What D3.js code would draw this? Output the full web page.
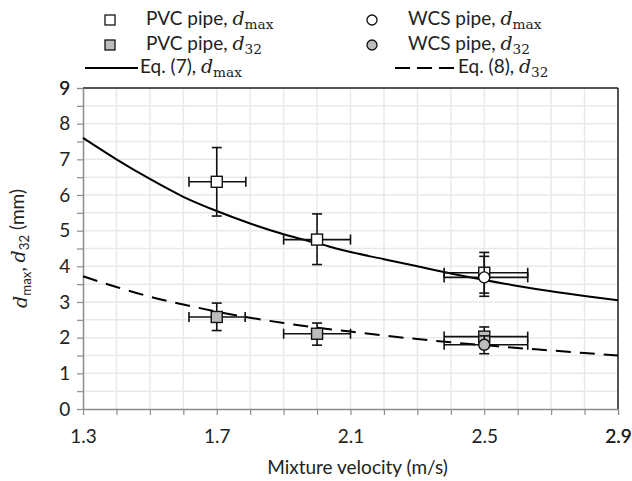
<!DOCTYPE html>
<html>
<head>
<meta charset="utf-8">
<script src="https://cdn.jsdelivr.net/npm/d3@7"></script>
<style>
  body { margin: 0; background: #fff; }
  svg { font-family: Lato, "Open Sans", sans-serif; }
</style>
</head>
<body>
<div id="chart"></div>
<script>
// measured points (x = mixture velocity, y = diameter), error bar ends
const pvcMax = [
  {x: 1.7, y: 6.37, x0: 1.617, x1: 1.787, y0: 5.41, y1: 7.33},
  {x: 2.0, y: 4.75, x0: 1.90, x1: 2.10, y0: 4.05, y1: 5.47},
  {x: 2.5, y: 3.82, x0: 2.38, x1: 2.63, y0: 3.25, y1: 4.39}
];
const pvc32 = [
  {x: 1.7, y: 2.58, x0: 1.617, x1: 1.785, y0: 2.20, y1: 2.97},
  {x: 2.0, y: 2.11, x0: 1.90, x1: 2.10, y0: 1.79, y1: 2.41},
  {x: 2.5, y: 2.03, x0: 2.38, x1: 2.63, y0: 1.72, y1: 2.30}
];
const wcsMax = [
  {x: 2.5, y: 3.69, x0: 2.38, x1: 2.63, y0: 3.16, y1: 4.28}
];
const wcs32 = [
  {x: 2.5, y: 1.80, x0: 2.38, x1: 2.63, y0: 1.55, y1: 2.05}
];
// correlation curves
const eqVel = [1.3, 1.4, 1.5, 1.6, 1.7, 1.8, 1.9, 2.0, 2.1, 2.2, 2.3, 2.4, 2.5, 2.6, 2.7, 2.8, 2.9];
const eq7Max = [7.6, 7.0, 6.45, 5.95, 5.55, 5.2, 4.9, 4.65, 4.4, 4.2, 4.0, 3.8, 3.62, 3.45, 3.3, 3.17, 3.05];
const eq8d32 = [3.72, 3.42, 3.15, 2.93, 2.73, 2.56, 2.41, 2.28, 2.17, 2.06, 1.96, 1.87, 1.79, 1.71, 1.64, 1.57, 1.5];
const xTickLabels = [1.3, 1.7, 2.1, 2.5, 2.9];
const yTickLabels = [0, 1, 2, 3, 4, 5, 6, 7, 8, 9];

const W = 632, H = 481;
const margin = {top: 88, right: 14, bottom: 72, left: 83};
const width = W - margin.left - margin.right,
      height = H - margin.top - margin.bottom;

const svg = d3.select("#chart").append("svg")
    .attr("width", W)
    .attr("height", H);

const g = svg.append("g")
    .attr("transform", `translate(${margin.left},${margin.top})`);

const x = d3.scaleLinear().domain([1.3, 2.9]).range([0, width]);
const y = d3.scaleLinear().domain([0, 9]).range([height, 0]);

const minorX = d3.range(13, 30).map(d => d / 10);
const minorY = d3.range(0, 19).map(d => d / 2);

// gridlines
g.append("g").selectAll("line")
  .data(minorX.slice(1))
  .enter().append("line")
    .attr("x1", d => x(d)).attr("x2", d => x(d))
    .attr("y1", 0).attr("y2", height)
    .attr("stroke", "#e9e9e9").attr("stroke-width", 1.5);
g.append("g").selectAll("line")
  .data(minorY.slice(1))
  .enter().append("line")
    .attr("y1", d => y(d)).attr("y2", d => y(d))
    .attr("x1", 0).attr("x2", width)
    .attr("stroke", "#e9e9e9").attr("stroke-width", 1.5);

// top & right border
g.append("line").attr("x1", 0).attr("x2", width).attr("y1", 0).attr("y2", 0)
  .attr("stroke", "#222").attr("stroke-width", 1.5);
g.append("line").attr("x1", width).attr("x2", width).attr("y1", 0).attr("y2", height)
  .attr("stroke", "#222").attr("stroke-width", 1.5);

// axes
const xAxis = g.append("g")
    .attr("transform", `translate(0,${height})`)
    .call(d3.axisBottom(x).tickValues(minorX.concat([2.9])).tickSize(6).tickSizeOuter(0)
      .tickFormat(d => xTickLabels.some(v => Math.abs(v - d) < 1e-6) ? d3.format(".1f")(d) : ""));
const yAxis = g.append("g")
    .call(d3.axisLeft(y).tickValues(minorY.concat([9])).tickSize(6).tickSizeOuter(0)
      .tickFormat(d => yTickLabels.includes(d) ? d : ""));

[xAxis, yAxis].forEach(a => {
  a.select(".domain").attr("stroke", "#8c8c8c").attr("stroke-width", 1.5);
  a.selectAll(".tick line").attr("stroke", "#8c8c8c").attr("stroke-width", 1.2);
  a.selectAll("text").attr("font-family", "Lato, sans-serif").attr("font-size", 19).attr("fill", "#222");
});
xAxis.selectAll("text").attr("dy", "1.3em");
yAxis.selectAll("text").attr("dx", "-0.2em");

// curves
const line = d3.line().x(d => x(d[0])).y(d => y(d[1])).curve(d3.curveMonotoneX);
g.append("path")
  .datum(eqVel.map((v, i) => [v, eq7Max[i]]))
  .attr("d", line)
  .attr("fill", "none").attr("stroke", "#000").attr("stroke-width", 2);
g.append("path")
  .datum(eqVel.map((v, i) => [v, eq8d32[i]]))
  .attr("d", line)
  .attr("fill", "none").attr("stroke", "#000").attr("stroke-width", 2)
  .attr("stroke-dasharray", "15,9");

// error bars + markers
function drawSeries(data, shape, fill) {
  const s = g.append("g");
  const grp = s.selectAll("g").data(data).enter().append("g");
  const cap = 5;
  grp.append("line")
    .attr("x1", d => x(d.x0)).attr("x2", d => x(d.x1))
    .attr("y1", d => y(d.y)).attr("y2", d => y(d.y));
  grp.append("line")
    .attr("x1", d => x(d.x)).attr("x2", d => x(d.x))
    .attr("y1", d => y(d.y0)).attr("y2", d => y(d.y1));
  grp.append("line")
    .attr("x1", d => x(d.x0)).attr("x2", d => x(d.x0))
    .attr("y1", d => y(d.y) - cap).attr("y2", d => y(d.y) + cap);
  grp.append("line")
    .attr("x1", d => x(d.x1)).attr("x2", d => x(d.x1))
    .attr("y1", d => y(d.y) - cap).attr("y2", d => y(d.y) + cap);
  grp.append("line")
    .attr("x1", d => x(d.x) - cap).attr("x2", d => x(d.x) + cap)
    .attr("y1", d => y(d.y0)).attr("y2", d => y(d.y0));
  grp.append("line")
    .attr("x1", d => x(d.x) - cap).attr("x2", d => x(d.x) + cap)
    .attr("y1", d => y(d.y1)).attr("y2", d => y(d.y1));
  grp.selectAll("line").attr("stroke", "#111").attr("stroke-width", 1.6);
  if (shape === "square") {
    grp.append("rect")
      .attr("x", d => x(d.x) - 5.5).attr("y", d => y(d.y) - 5.5)
      .attr("width", 11).attr("height", 11);
  } else {
    grp.append("circle")
      .attr("cx", d => x(d.x)).attr("cy", d => y(d.y)).attr("r", 5.5);
  }
  grp.selectAll("rect, circle").attr("fill", fill).attr("stroke", "#111").attr("stroke-width", 1.4);
}
drawSeries(pvcMax, "square", "#fff");
drawSeries(pvc32, "square", "#bdbdbd");
drawSeries(wcsMax, "circle", "#fff");
drawSeries(wcs32, "circle", "#bdbdbd");

// text with math-style d and subscript
function mathLabel(sel, prefix, sub) {
  if (prefix) sel.append("tspan").text(prefix);
  sel.append("tspan").text("d")
    .attr("font-family", "'DejaVu Serif', serif").attr("font-style", "italic");
  sel.append("tspan").text(sub)
    .attr("font-family", "'DejaVu Serif', serif")
    .attr("font-size", "0.72em").attr("dy", "0.3em");
}

// legend
const legend = svg.append("g").attr("font-size", 19).attr("fill", "#222");
const legRows = [
  {lx: 110, cy: 20, kind: "square", fill: "#fff", text: "PVC pipe, ", sub: "max"},
  {lx: 110, cy: 45, kind: "square", fill: "#bdbdbd", text: "PVC pipe, ", sub: "32"},
  {lx: 372, cy: 20, kind: "circle", fill: "#fff", text: "WCS pipe, ", sub: "max"},
  {lx: 372, cy: 45, kind: "circle", fill: "#bdbdbd", text: "WCS pipe, ", sub: "32"}
];
legRows.forEach(r => {
  if (r.kind === "square") {
    legend.append("rect").attr("x", r.lx - 5).attr("y", r.cy - 5).attr("width", 10).attr("height", 10)
      .attr("fill", r.fill).attr("stroke", "#111").attr("stroke-width", 1.3);
  } else {
    legend.append("circle").attr("cx", r.lx).attr("cy", r.cy).attr("r", 5)
      .attr("fill", r.fill).attr("stroke", "#111").attr("stroke-width", 1.3);
  }
  const t = legend.append("text").attr("x", r.lx + 36).attr("y", r.cy + 5);
  mathLabel(t, r.text, r.sub);
});
legend.append("line").attr("x1", 85).attr("x2", 138).attr("y1", 68).attr("y2", 68)
  .attr("stroke", "#000").attr("stroke-width", 2);
mathLabel(legend.append("text").attr("x", 140).attr("y", 73), "Eq. (7), ", "max");
legend.append("line").attr("x1", 395).attr("x2", 455).attr("y1", 68).attr("y2", 68)
  .attr("stroke", "#000").attr("stroke-width", 2).attr("stroke-dasharray", "15,7");
mathLabel(legend.append("text").attr("x", 458).attr("y", 73), "Eq. (8), ", "32");

// axis titles
svg.append("text")
  .attr("x", margin.left + width / 2 + 7).attr("y", 474)
  .attr("text-anchor", "middle").attr("font-size", 19).attr("fill", "#222")
  .text("Mixture velocity (m/s)");

const yt = svg.append("text")
  .attr("transform", `translate(27,${margin.top + height / 2}) rotate(-90)`)
  .attr("text-anchor", "middle").attr("font-size", 19).attr("fill", "#222");
yt.append("tspan").text("d").attr("font-style", "italic").attr("font-family", "'DejaVu Serif', serif");
yt.append("tspan").text("max").attr("font-size", "0.7em").attr("dy", "0.3em");
yt.append("tspan").text(", ").attr("dy", "-0.3em");
yt.append("tspan").text("d").attr("font-style", "italic").attr("font-family", "'DejaVu Serif', serif");
yt.append("tspan").text("32").attr("font-size", "0.7em").attr("dy", "0.3em");
yt.append("tspan").text(" (mm)").attr("dy", "-0.3em");
</script>
</body>
</html>
